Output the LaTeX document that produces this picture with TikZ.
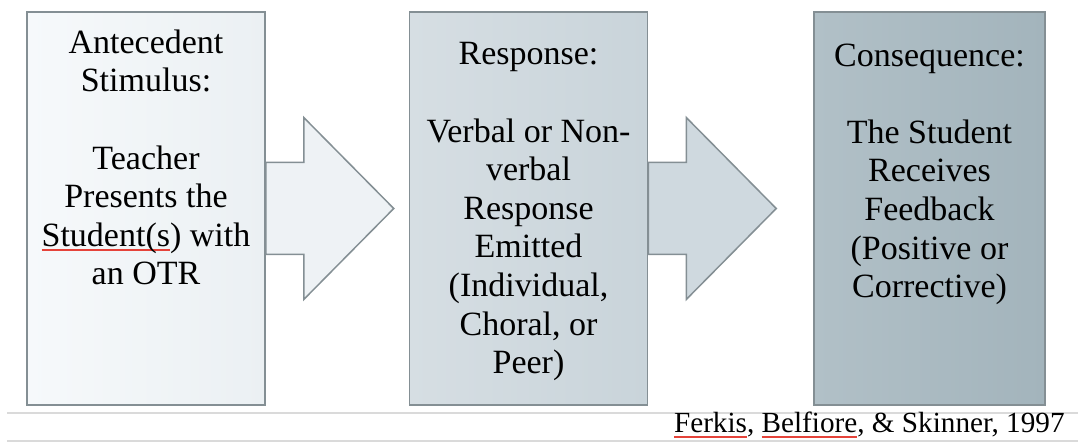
\documentclass[tikz,border=0pt]{standalone}
\usepackage{fontspec}
\setmainfont{Liberation Serif}
\usetikzlibrary{positioning, calc}

\definecolor{edgeGray}{HTML}{848F94}
\definecolor{anteL}{HTML}{F6F9FB}
\definecolor{anteR}{HTML}{EBF0F3}
\definecolor{respL}{HTML}{D6DEE3}
\definecolor{respR}{HTML}{C9D4DA}
\definecolor{consL}{HTML}{B1C0C7}
\definecolor{consR}{HTML}{A3B4BC}
\definecolor{arrOne}{HTML}{EEF2F5}
\definecolor{arrTwo}{HTML}{CFD9DF}
\definecolor{ruleGray}{HTML}{DADADA}
\definecolor{spellRed}{HTML}{E5433A}

% red spell-check mark under a word
\newcommand{\spellmark}[1]{\setbox0\hbox{#1}\rlap{\color{spellRed}\rule[-2.6pt]{\wd0}{1pt}}#1}

\begin{document}
\begin{tikzpicture}[
    x=0.5pt, y=0.5pt,
    stage/.style={rectangle, draw=edgeGray, line width=0.75pt, minimum width=119pt, minimum height=196.5pt, inner sep=0pt},
    blockarr/.style={draw=edgeGray, line width=0.75pt, fill=#1, line join=miter},
    txt/.style={font=\fontsize{17}{19.3}\selectfont, align=center, anchor=north, inner sep=0pt},
    cite/.style={font=\fontsize{14.6}{17}\selectfont, anchor=base east, inner sep=0pt},
    rulegray/.style={draw=ruleGray, line width=1pt},
]
\useasboundingbox (0,0) rectangle (1078,445);

% ========== STAGES ==========
\node[stage, left color=anteL, right color=anteR] at (146,236.5) (ante) {};
\node[stage, left color=respL, right color=respR] at (528.5,236.5) (resp) {};
\node[stage, left color=consL, right color=consR, minimum width=115.5pt] at (929.5,236.5) (cons) {};

% ========== BLOCK ARROWS ==========
\foreach \src/\col in {ante/arrOne, resp/arrTwo}
  \draw[blockarr=\col] ([yshift=23pt]\src.east) -- ++(19pt,0) -- ++(0,22.5pt) -- ++(45pt,-45.5pt)
    -- ++(-45pt,-45.5pt) -- ++(0,22.5pt) -- ++(-19pt,0) -- cycle;

% ========== TEXTS ==========
\node[txt] at ([yshift=-9pt]ante.north) (ante-txt) {Antecedent\\Stimulus:\\[19.3pt]Teacher\\Presents the\\\spellmark{Student(s}) with\\an OTR};
\node[txt] at ([yshift=-15.5pt]resp.north) (resp-txt) {Response:\\[19.3pt]Verbal or Non-\\verbal\\Response\\Emitted\\(Individual,\\Choral, or\\Peer)};
\node[txt] at ([yshift=-16pt]cons.north) (cons-txt) {Consequence:\\[19.3pt]The Student\\Receives\\Feedback\\(Positive or\\Corrective)};

% ========== SOURCE LINE ==========
\draw[rulegray] (7,32) -- (1078,32);
\draw[rulegray] (7,4) -- (1078,4);
\node[cite] at (1065,12) (source) {\spellmark{Ferkis}, \spellmark{Belfiore}, \& Skinner, 1997};

\end{tikzpicture}
\end{document}
